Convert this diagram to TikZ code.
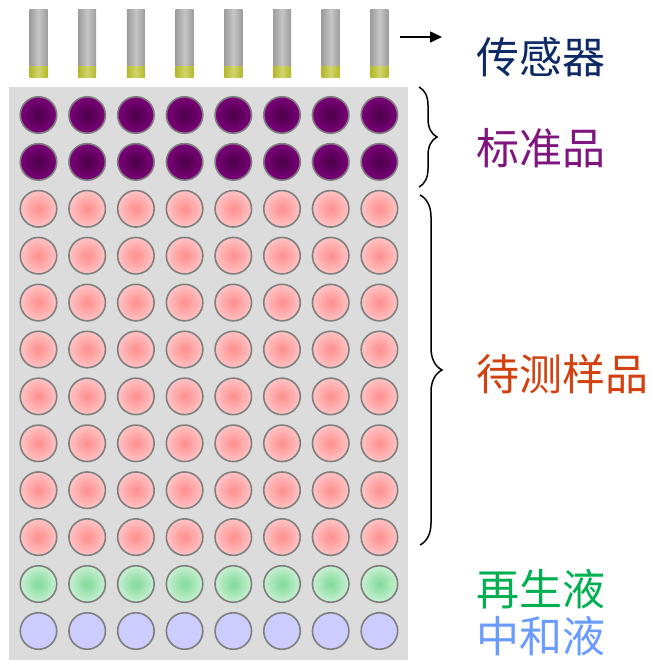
\documentclass[tikz,border=0pt]{standalone}
\usepackage{fontspec}
\newfontfamily\cjk{Noto Sans CJK SC}
\usetikzlibrary{decorations.pathreplacing,arrows.meta}
\definecolor{panelgray}{HTML}{DCDCDC}
\definecolor{senscol}{HTML}{0E2A66}
\definecolor{stdcol}{HTML}{7F1680}
\definecolor{samplecol}{HTML}{D2410F}
\definecolor{regencol}{HTML}{00B050}
\definecolor{neutcol}{HTML}{6A9BFF}
\definecolor{purpout}{HTML}{7C007A}
\definecolor{purpin}{HTML}{4A0048}
\definecolor{pinkout}{HTML}{FFC4C4}
\definecolor{pinkin}{HTML}{FF8E8E}
\definecolor{greenout}{HTML}{C8F0D2}
\definecolor{greenin}{HTML}{80DA9A}
\definecolor{bluefill}{HTML}{CCCCFF}
\definecolor{ringgray}{HTML}{7F7F7F}
\definecolor{tipedge}{HTML}{B2B82A}
\definecolor{tipmid}{HTML}{D2D46E}
\definecolor{bodyedge}{HTML}{9C9C9C}
\definecolor{bodymid}{HTML}{C6C6C6}
\begin{document}
\begin{tikzpicture}[x=1pt,y=-1pt,
  well/.style={circle,minimum size=36.5pt,inner sep=0pt,draw=ringgray,line width=1.6pt},
  stdwell/.style={well,inner color=purpin,outer color=purpout},
  samplewell/.style={well,inner color=pinkin,outer color=pinkout},
  regenwell/.style={well,inner color=greenin,outer color=greenout},
  neutwell/.style={well,fill=bluefill},
  sensbody/.style={left color=bodyedge,right color=bodyedge,middle color=bodymid,draw=none},
  senstip/.style={left color=tipedge,right color=tipedge,middle color=tipmid,draw=none},
  label/.style={anchor=west,inner sep=0pt,font=\cjk\fontsize{43}{48}\selectfont},
  bracestyle/.style={decorate,line width=1.5pt,black}]
\useasboundingbox (0,0) rectangle (650,660);
% panel
\node[fill=panelgray,draw=none,minimum width=399pt,minimum height=573pt,inner sep=0pt,anchor=north west] (panel) at (9,87) {};
% sensors
\foreach \i in {0,...,7}{
  \pgfmathsetmacro{\cx}{38.5+48.7*\i}
  \node[sensbody,minimum width=18pt,minimum height=57pt,inner sep=0pt,anchor=north] (s\i) at (\cx,9) {};
  \node[senstip,minimum width=18pt,minimum height=11pt,inner sep=0pt,anchor=north] (t\i) at (\cx,66) {};
}
% wells
\foreach \i in {0,...,7}{
  \pgfmathsetmacro{\cx}{38.5+48.7*\i}
  \foreach \r in {0,1}{
    \pgfmathsetmacro{\cy}{115+46.9*\r}
    \node[stdwell] (w\r-\i) at (\cx,\cy) {};
  }
  \foreach \r in {2,...,9}{
    \pgfmathsetmacro{\cy}{115+46.9*\r}
    \node[samplewell] (w\r-\i) at (\cx,\cy) {};
  }
  \node[regenwell] (w10-\i) at (\cx,584) {};
  \node[neutwell] (w11-\i) at (\cx,631) {};
}
% arrow
\coordinate (ars) at (400,37);
\coordinate (are) at (442,37);
\draw[line width=1.5pt,-{Triangle[length=12pt,width=11pt]}] (ars) -- (are);
% braces
\coordinate (b1t) at (419,87);
\coordinate (b1b) at (419,187);
\draw[bracestyle,decoration={brace,amplitude=18pt}] (b1t) -- (b1b);
\coordinate (b2t) at (420,195);
\coordinate (b2b) at (420,545);
\draw[bracestyle,decoration={brace,amplitude=22pt}] (b2t) -- (b2b);
% labels
\node[label,text=senscol] (lsens) at (476,57) {传感器};
\node[label,text=stdcol] (lstd) at (476,148) {标准品};
\node[label,text=samplecol] (lsample) at (476,374) {待测样品};
\node[label,text=regencol] (lregen) at (476,589) {再生液};
\node[label,text=neutcol] (lneut) at (476,636) {中和液};
\end{tikzpicture}
\end{document}
